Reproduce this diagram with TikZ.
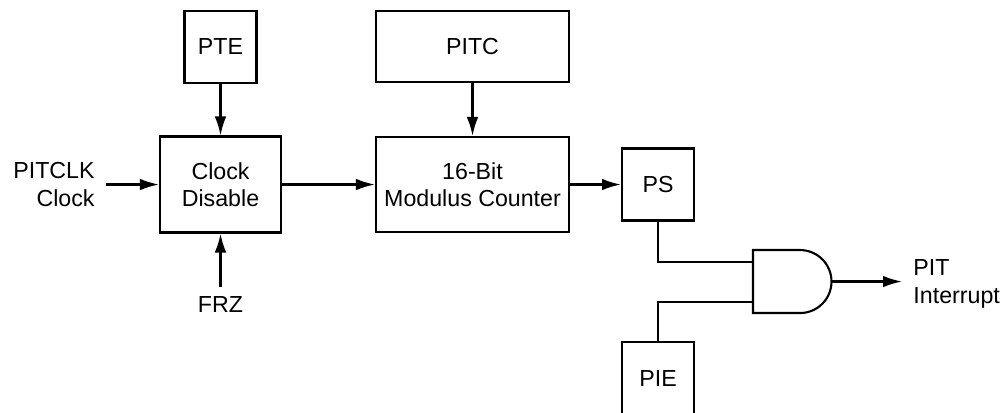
\documentclass[tikz,border=0pt]{standalone}
\usepackage{fontspec}
\setmainfont{Liberation Sans}
\usetikzlibrary{arrows.meta, positioning}
\tikzset{
  block/.style={rectangle, draw=black, align=center, inner sep=0pt,
    font=\fontsize{11}{13}\selectfont, line width=1pt},
  regbox/.style={block, minimum width=1.2cm, minimum height=1.2cm},
  sigtext/.style={inner sep=0pt, font=\fontsize{11}{13}\selectfont},
  arrow/.style={-{Latex[length=9pt,width=5.5pt]}, line width=1pt, color=black},
  line/.style={line width=1pt, color=black}
}
\begin{document}
\begin{tikzpicture}
  \useasboundingbox (0,0) rectangle (16.733,-6.867);
  % registers and blocks
  \node[regbox] (pte) at (3.675,-0.783) {PTE};
  \node[block, minimum width=2.017cm, minimum height=1.6cm] (cd) at (3.675,-3.075) {Clock\\Disable};
  \node[block, minimum width=3.217cm, minimum height=1.183cm] (pitc) at (7.875,-0.775) {PITC};
  \node[block, minimum width=3.217cm, minimum height=1.583cm] (cnt) at (7.875,-3.075) {16-Bit\\Modulus Counter};
  \node[regbox] (ps) at (10.967,-3.075) {PS};
  \node[regbox] (pie) at (10.967,-6.3) {PIE};
  % AND gate
  \draw[line] (12.55,-4.167) -- (13.333,-4.167) arc[start angle=90, end angle=-90, radius=0.525] -- (12.55,-5.217) -- cycle;
  \coordinate (gin1) at (12.55,-4.367);
  \coordinate (gin2) at (12.55,-5.033);
  \coordinate (gout) at (13.858,-4.692);
  % signal names
  \node[sigtext, anchor=east, align=right] (clk) at (1.583,-3.075) {PITCLK\\Clock};
  \coordinate (clkin) at (1.767,-3.075);
  \node[sigtext] (frz) at (3.675,-5.083) {FRZ};
  \coordinate (frzin) at (3.675,-4.783);
  \node[sigtext, anchor=west, align=left] (pit) at (15.217,-4.733) {PIT\\Interrupt};
  \coordinate (pitout) at (15.033,-4.692);
  % connections
  \draw[arrow] (clkin) -- (cd.west);
  \draw[arrow] (pte) -- (cd);
  \draw[arrow] (frzin) -- (cd.south);
  \draw[arrow] (pitc) -- (cnt);
  \draw[arrow] (cd) -- (cnt);
  \draw[arrow] (cnt) -- (ps);
  \draw[line] (ps.south) |- (gin1);
  \draw[line] (pie.north) |- (gin2);
  \draw[arrow] (gout) -- (pitout);
\end{tikzpicture}
\end{document}
